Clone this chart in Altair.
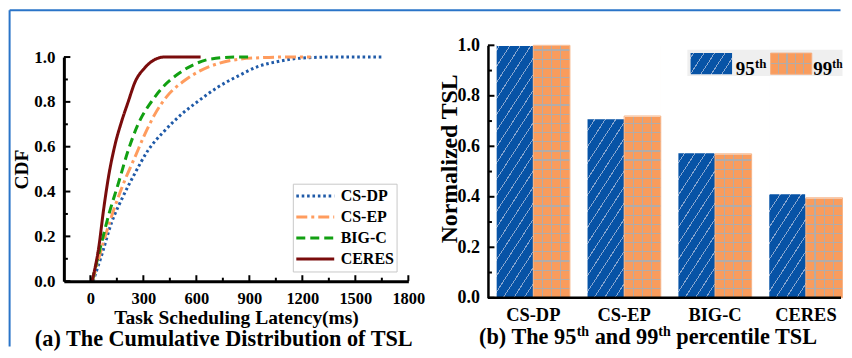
import altair as alt
import pandas as pd

# ---------------- data ----------------
SERIES = ["CS-DP", "CS-EP", "BIG-C", "CERES"]
CSDP_MS = [15, 65, 121, 177, 252, 326, 419, 512, 605, 720, 835, 950, 1062, 1174, 1360, 1658]
CSDP_CDF = [0, 0.119, 0.264, 0.365, 0.481, 0.583, 0.67, 0.742, 0.80, 0.865, 0.915, 0.958, 0.98, 0.994, 1.0, 1.0]
CSEP_MS = [12, 75, 140, 196, 252, 308, 363, 438, 531, 620, 727, 838, 960, 1079, 1248]
CSEP_CDF = [0, 0.177, 0.336, 0.452, 0.553, 0.655, 0.742, 0.829, 0.894, 0.938, 0.972, 0.99, 0.997, 1.0, 1.0]
BIGC_MS = [10, 65, 103, 159, 214, 270, 345, 419, 494, 587, 680, 828, 912]
BIGC_CDF = [0, 0.177, 0.293, 0.438, 0.583, 0.70, 0.80, 0.873, 0.923, 0.967, 0.991, 1.0, 1.0]
CERES_MS = [9, 47, 75, 103, 140, 177, 214, 252, 308, 363, 419, 624]
CERES_CDF = [0, 0.148, 0.32, 0.467, 0.61, 0.713, 0.80, 0.887, 0.952, 0.988, 1.0, 1.0]

CATEGORIES = ["CS-DP", "CS-EP", "BIG-C", "CERES"]
PCT_SERIES = ["95th", "99th"]
P95 = [1.0, 0.71, 0.575, 0.413]
P99 = [1.0, 0.72, 0.57, 0.396]

X_TICKS = [0, 300, 600, 900, 1200, 1500, 1800]
X_MINOR = [150, 450, 750, 1050, 1350, 1650]
Y_TICKS = [0, 0.2, 0.4, 0.6, 0.8, 1.0]
Y_MINOR = [0.1, 0.3, 0.5, 0.7, 0.9]

FONT = "Liberation Serif"
LINE_COLORS = ["#1f5aa8", "#ff9c5e", "#12a012", "#7a0c0c"]
LINE_DASHES = [[2.6, 2.8], [11, 4, 3, 4], [9, 5], [1, 0]]
FRAME = "#2a74c8"
BLUE = "#0753a6"
BLUE_LINE = "#89a7d0"
ORANGE = "#f99c5d"
GRID = "#b2aca9"

# ---------------- pattern helpers ----------------
def stripes(L, centers, lw, base, lc, x2, y2):
    stops = [{"offset": 0, "color": base}]
    for c in centers:
        a = round(max(0.0, (c - lw / 2) / L), 5)
        b = round(min(1.0, (c + lw / 2) / L), 5)
        stops += [{"offset": a, "color": base}, {"offset": a, "color": lc},
                  {"offset": b, "color": lc}, {"offset": b, "color": base}]
    stops.append({"offset": 1, "color": base})
    return {"gradient": "linear", "x1": 0, "y1": 0, "x2": round(x2, 5), "y2": round(y2, 5), "stops": stops}


def diag(w, h, k, period, lw, base, lc, phase=3.0):
    L = w + k * h
    s = L / (w * w + k * k * h * h)
    cs = []
    c = phase
    while c < L:
        cs.append(c)
        c += period
    return stripes(L, cs, lw, base, lc, s * w, s * k * h)


def vlines(w, period, lw, base, lc):
    cs = []
    c = period
    while c < w - 1:
        cs.append(c)
        c += period
    return stripes(w, cs, lw, base, lc, 1, 0)


def hlines(h, period, lw, base, lc):
    cs = []
    c = h - period
    while c > 1:
        cs.append(c)
        c -= period
    cs.sort()
    return stripes(h, cs, lw, base, lc, 0, 1)


# ---------------- geometry ----------------
LW, LH = 345.3, 236.45         # left plot
LTOP = 11.75                   # y of CDF = 1.0 inside the left group
RW, RH = 355.4, 253.05         # right plot
P_IN, P_OUT = 0.194, 0.048
STEP = RW / (4 - P_IN + 2 * P_OUT)
BAR_W = STEP * (1 - P_IN) / 2

BLUE_GRAD = diag(BAR_W, RH, 0.65, 10.5, 1.1, BLUE, BLUE_LINE)
OR_V = vlines(BAR_W, BAR_W / 4, 1.2, ORANGE, GRID)
OR_H = hlines(RH, 9.2, 1.2, "rgba(0,0,0,0)", GRID)
SW_BLUE = diag(41.6, 21.2, 0.65, 10.5, 1.1, BLUE, BLUE_LINE)
SW_OR_V = vlines(41.3, 8.26, 1.2, ORANGE, GRID)
SW_OR_H = hlines(21.2, 10.6, 1.2, "rgba(0,0,0,0)", GRID)

one = pd.DataFrame({"k": [0]})

# ---------------- left chart (CDF) ----------------
rows = []
for name, xs, ys in [("CS-DP", CSDP_MS, CSDP_CDF), ("CS-EP", CSEP_MS, CSEP_CDF),
                     ("BIG-C", BIGC_MS, BIGC_CDF), ("CERES", CERES_MS, CERES_CDF)]:
    for xv, yv in zip(xs, ys):
        rows.append({"series": name, "ms": xv, "cdf": yv})
cdf_df = pd.DataFrame(rows)

xs_l = alt.Scale(domain=[-150, 1800], nice=False, zero=False)
ys_l = alt.Scale(domain=[0, 1], nice=False, range=[LH, LTOP])
x_axis_l = alt.Axis(values=X_TICKS, format="d", ticks=False, labelPadding=9.5, labelFontSize=16.5,
                    labelFlush=False, grid=False, domainWidth=3, zindex=1,
                    title="Task Scheduling Latency(ms)", titleFontSize=19.5, titleX=LW / 2,
                    titleY=42.4, titleBaseline="alphabetic", titleAlign="center")
y_axis_l = alt.Axis(values=Y_TICKS, format=".1f", ticks=False, labelPadding=9, labelFontSize=17,
                    grid=False, domainWidth=3, zindex=1, title="CDF", titleFontSize=19.5,
                    titleAngle=270, titleX=-36.6, titleY=124.1, titleBaseline="alphabetic",
                    titleAlign="center")

leg = alt.Legend(orient="none", legendX=229.5, legendY=138.7, title=None, symbolType="stroke",
                 symbolSize=1444, symbolStrokeWidth=3, labelFont=FONT, labelFontSize=16,
                 labelFontWeight="bold", labelColor="black", padding=2, strokeColor="#c8c8c8",
                 fillColor="white", clipHeight=20.9, rowPadding=0, labelOffset=5)

lines = alt.Chart(cdf_df).mark_line(strokeWidth=3, interpolate="monotone").encode(
    x=alt.X("ms:Q", scale=xs_l, axis=x_axis_l),
    y=alt.Y("cdf:Q", scale=ys_l, axis=y_axis_l),
    color=alt.Color("series:N", scale=alt.Scale(domain=SERIES, range=LINE_COLORS), legend=leg),
    strokeDash=alt.StrokeDash("series:N", scale=alt.Scale(domain=SERIES, range=LINE_DASHES), legend=leg),
)

lx_major = alt.Chart(pd.DataFrame({"ms": X_TICKS})).mark_rule(color="black", strokeWidth=2).encode(
    x=alt.X("ms:Q", scale=xs_l, axis=x_axis_l), y=alt.value(LH), y2=alt.value(LH - 6))
lx_minor = alt.Chart(pd.DataFrame({"ms": X_MINOR})).mark_rule(color="black", strokeWidth=2).encode(
    x=alt.X("ms:Q", scale=xs_l, axis=x_axis_l), y=alt.value(LH), y2=alt.value(LH - 3.5))
ly_major = alt.Chart(pd.DataFrame({"cdf": Y_TICKS})).mark_rule(color="black", strokeWidth=2).encode(
    y=alt.Y("cdf:Q", scale=ys_l, axis=y_axis_l), x=alt.value(0), x2=alt.value(6.5))
ly_minor = alt.Chart(pd.DataFrame({"cdf": Y_MINOR})).mark_rule(color="black", strokeWidth=2).encode(
    y=alt.Y("cdf:Q", scale=ys_l, axis=y_axis_l), x=alt.value(0), x2=alt.value(4))

frame_v = alt.Chart(one).mark_rule(color=FRAME, strokeWidth=2).encode(
    x=alt.value(-54.4), y=alt.value(-35.15), y2=alt.value(302))
frame_h = alt.Chart(one).mark_rule(color=FRAME, strokeWidth=2).encode(
    x=alt.value(-54.4), x2=alt.value(778.5), y=alt.value(-35.15))

sub_a = alt.Chart(one).mark_text(text="(a) The Cumulative Distribution of TSL", font=FONT,
                                 fontSize=22.3, fontWeight="bold", color="black",
                                 align="center", baseline="alphabetic").encode(
    x=alt.value(160.3), y=alt.value(301.2))

left = alt.layer(frame_v, frame_h, lines, lx_major, lx_minor, ly_major, ly_minor, sub_a).properties(
    width=LW, height=LH)

# ---------------- right chart (bars) ----------------
bar_df = pd.DataFrame({"cat": CATEGORIES * 2,
                       "series": [PCT_SERIES[0]] * 4 + [PCT_SERIES[1]] * 4,
                       "value": P95 + P99})
base = alt.Chart(bar_df).transform_calculate(one="1")

xs_r = alt.Scale(domain=CATEGORIES, paddingInner=P_IN, paddingOuter=P_OUT, align=1)
x_axis_r = alt.Axis(title=None, labelAngle=0, ticks=False, domain=False, labelPadding=8,
                    labelFontSize=18.5, grid=False, zindex=1)
xenc = alt.X("cat:N", scale=xs_r, sort=CATEGORIES, axis=x_axis_r)
xoff = alt.XOffset("series:N", scale=alt.Scale(domain=PCT_SERIES))
ys_r = alt.Scale(domain=[0, 1], nice=False)
y_axis_r = alt.Axis(values=Y_TICKS, format=".1f", ticks=False, labelPadding=8.5, labelFontSize=18,
                    grid=False, domainWidth=2.5, zindex=1, title="Normalized TSL", titleFontSize=23.8,
                    titleAngle=270, titleX=-31.6, titleY=113.3, titleBaseline="alphabetic",
                    titleAlign="center")


def ybar(field):
    return alt.Y(field, scale=ys_r, stack=None, axis=y_axis_r)


blue_full = base.transform_filter("datum.series == '95th'").mark_bar(fill=BLUE_GRAD).encode(
    x=xenc, xOffset=xoff, y=ybar("one:Q"))
or_full = base.transform_filter("datum.series == '99th'").mark_bar(fill=OR_V).encode(
    x=xenc, xOffset=xoff, y=ybar("one:Q"))
or_h = base.transform_filter("datum.series == '99th'").mark_bar(fill=OR_H).encode(
    x=xenc, xOffset=xoff, y=ybar("one:Q"))
cover = base.mark_bar(fill="white", stroke="white", strokeWidth=1.4).encode(
    x=xenc, xOffset=xoff, y=ybar("value:Q"), y2=alt.Y2("one:Q"))
or_edge = base.transform_filter("datum.series == '99th'").mark_bar(
    fillOpacity=0, stroke="#f6b487", strokeWidth=1).encode(
    x=xenc, xOffset=xoff, y=ybar("value:Q"))

ry_major = alt.Chart(pd.DataFrame({"value": Y_TICKS})).mark_rule(color="black", strokeWidth=2).encode(
    y=ybar("value:Q"), x=alt.value(0), x2=alt.value(6.5))
ry_minor = alt.Chart(pd.DataFrame({"value": Y_MINOR})).mark_rule(color="black", strokeWidth=2).encode(
    y=ybar("value:Q"), x=alt.value(0), x2=alt.value(4))
x_line = alt.Chart(one).mark_rule(color="black", strokeWidth=2.5).encode(
    x=alt.value(0), x2=alt.value(RW - 1.5), y=alt.value(RH))

# legend (manual, patterned swatches)
leg_box = alt.Chart(one).mark_rect(fill="#efefef").encode(
    x=alt.value(199.9), x2=alt.value(RW), y=alt.value(4.4), y2=alt.value(30.8))
sw_b = alt.Chart(one).mark_rect(fill=SW_BLUE).encode(
    x=alt.value(203.1), x2=alt.value(244.7), y=alt.value(7.8), y2=alt.value(29.0))
sw_o = alt.Chart(one).mark_rect(fill=SW_OR_V).encode(
    x=alt.value(283.3), x2=alt.value(324.6), y=alt.value(7.8), y2=alt.value(29.0))
sw_oh = alt.Chart(one).mark_rect(fill=SW_OR_H, stroke="#f4b084", strokeWidth=1).encode(
    x=alt.value(283.3), x2=alt.value(324.6), y=alt.value(7.8), y2=alt.value(29.0))


def txt(s, x, y, size):
    return alt.Chart(one).mark_text(text=s, font=FONT, fontSize=size, fontWeight="bold",
                                    color="black", align="left", baseline="alphabetic").encode(
        x=alt.value(x), y=alt.value(y))


leg_txt = [txt("95", 248.4, 29.3, 19), txt("th", 267.6, 22.5, 13),
           txt("99", 326.0, 29.3, 19), txt("th", 345.2, 22.5, 11.5)]

# subtitle (b) with superscripts
W = {"(": 333, ")": 333, " ": 250, "b": 556, "T": 667, "h": 556, "e": 444, "9": 500, "5": 500,
     "a": 500, "n": 556, "d": 556, "p": 556, "r": 444, "c": 444, "t": 333, "i": 278, "l": 278,
     "S": 556, "L": 667}


def tw(s, size):
    return sum(W.get(ch, 500) for ch in s) * size / 1000.0


F, FS, RAISE = 22.3, 14, 8
x0, yb = -8.9, 299.2
p1, p2, p3 = "(b) The 95", "and 99", "percentile TSL"
xa = x0
xb = xa + tw(p1, F)
xc = xb + tw("th", FS) + tw(" ", F)
xd = xc + tw(p2, F)
xe = xd + tw("th", FS) + tw(" ", F)
sub_b = [txt(p1, xa, yb, F), txt("th", xb, yb - RAISE, FS), txt(p2, xc, yb, F),
         txt("th", xd, yb - RAISE, FS), txt(p3, xe, yb, F)]

right = alt.layer(blue_full, or_full, or_h, cover, or_edge, ry_major, ry_minor, x_line,
                  leg_box, sw_b, sw_o, sw_oh, *leg_txt, *sub_b).properties(width=RW, height=RH)

chart = alt.hconcat(left, right, spacing=79.1, bounds="flush").properties(padding=0).configure_view(
    strokeWidth=0).configure_axis(
    labelFont=FONT, titleFont=FONT, labelFontWeight="bold", titleFontWeight="bold",
    labelColor="black", titleColor="black", domainColor="black")

chart.save("out.html", embed_options={"renderer": "svg", "actions": False})
